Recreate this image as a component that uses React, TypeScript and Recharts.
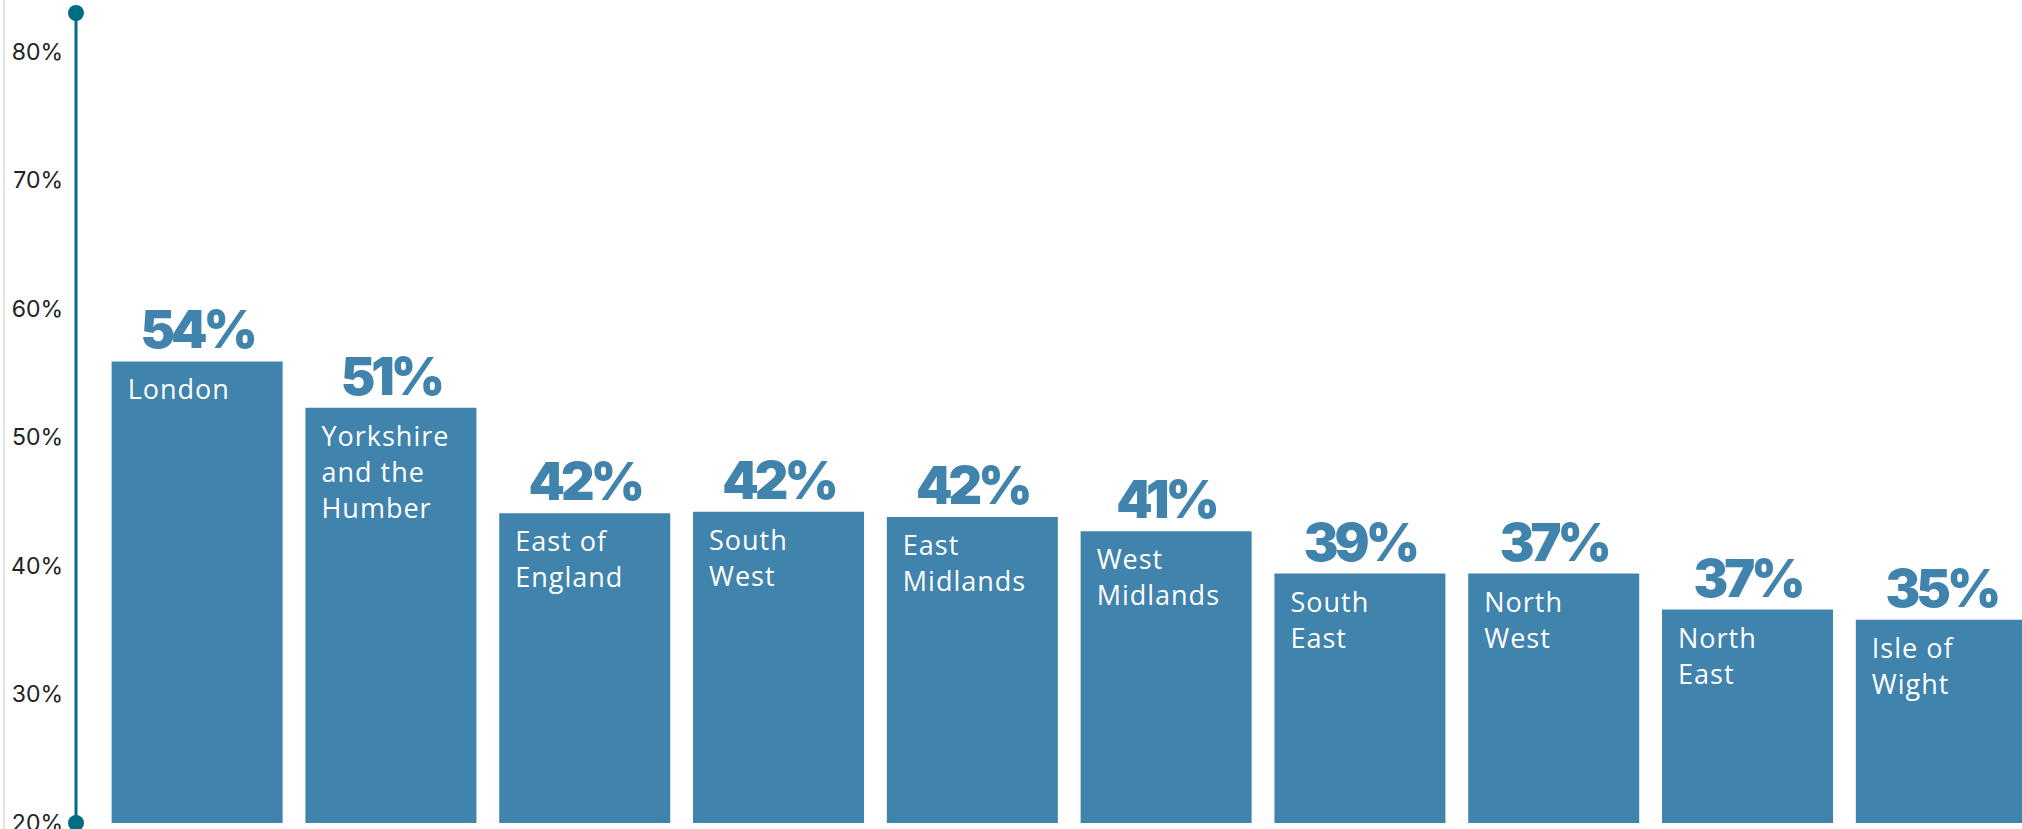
import React from "react"
import { Bar, BarChart, LabelList, XAxis, YAxis } from "recharts"

const regions = [
  "London",
  "Yorkshire and the Humber",
  "East of England",
  "South West",
  "East Midlands",
  "West Midlands",
  "South East",
  "North West",
  "North East",
  "Isle of Wight",
]
const regionLines = [
  ["London"],
  ["Yorkshire", "and the", "Humber"],
  ["East of", "England"],
  ["South", "West"],
  ["East", "Midlands"],
  ["West", "Midlands"],
  ["South", "East"],
  ["North", "West"],
  ["North", "East"],
  ["Isle of", "Wight"],
]
// bar heights as drawn (they sit a little above the printed figures)
const shares = [55.9, 52.3, 44.1, 44.2, 43.8, 42.7, 39.4, 39.4, 36.6, 35.8]
const shareLabels = ["54%", "51%", "42%", "42%", "42%", "41%", "39%", "37%", "37%", "35%"]
const yTicks = [20, 30, 40, 50, 60, 70, 80]
const yTop = 83

const BAR = "#4083ad"
const AXIS = "#006d85"

const data = regions.map((region, i) => ({
  region,
  value: shares[i],
  label: shareLabels[i],
}))

const AxisTick = (props: any) => {
  const { x, y, payload } = props
  const v = payload.value
  const ax = x + 13
  return (
    <g>
      {v !== yTop && (
        <text x={x} y={y} dy={8} textAnchor="end" fill="#222" fontFamily="Inter" fontSize={23}>
          {v}%
        </text>
      )}
      {(v === yTop || v === yTicks[0]) && <circle cx={ax} cy={y} r={8} fill={AXIS} />}
    </g>
  )
}

const ValueLabel = (p: any) => (
  <text
    x={p.x + p.width / 2}
    y={p.y - 13}
    textAnchor="middle"
    fill={BAR}
    fontFamily="Inter"
    fontWeight={900}
    fontSize={52}
    letterSpacing={-4}
  >
    {p.value}
  </text>
)

const NameLabel = (p: any) => {
  const lines = regionLines[regions.indexOf(p.value)] || [p.value]
  const tx = p.x + 16
  return (
    <text x={tx} y={p.y + 38} fill="#fff" fontFamily="Open Sans" fontSize={27} letterSpacing={1}>
      {lines.map((l: string, i: number) => (
        <tspan key={i} x={tx} dy={i === 0 ? 0 : 36}>
          {l}
        </tspan>
      ))}
    </text>
  )
}

export default function App() {
  return (
    <div style={{ position: "fixed", left: 0, top: 0, width: 2022, height: 829, overflow: "hidden", background: "#fff" }}>
      <BarChart
        width={2022}
        height={829}
        data={data}
        margin={{ top: 13, right: -16, left: 0, bottom: 6 }}
        barCategoryGap="6%"
      >
        <XAxis dataKey="region" hide padding={{ left: 24, right: 0 }} />
        <YAxis
          width={76}
          domain={[20, yTop]}
          ticks={[...yTicks, yTop]}
          interval={0}
          tickSize={0}
          tickMargin={13}
          tickLine={false}
          axisLine={{ stroke: AXIS, strokeWidth: 3 }}
          tick={<AxisTick />}
        />
        <Bar dataKey="value" fill={BAR} isAnimationActive={false}>
          <LabelList dataKey="label" content={<ValueLabel />} />
          <LabelList dataKey="region" content={<NameLabel />} />
        </Bar>
      </BarChart>
      <div style={{ position: "absolute", left: 3, top: 0, width: 2, height: 829, background: "#e3e3e3" }} />
    </div>
  )
}
